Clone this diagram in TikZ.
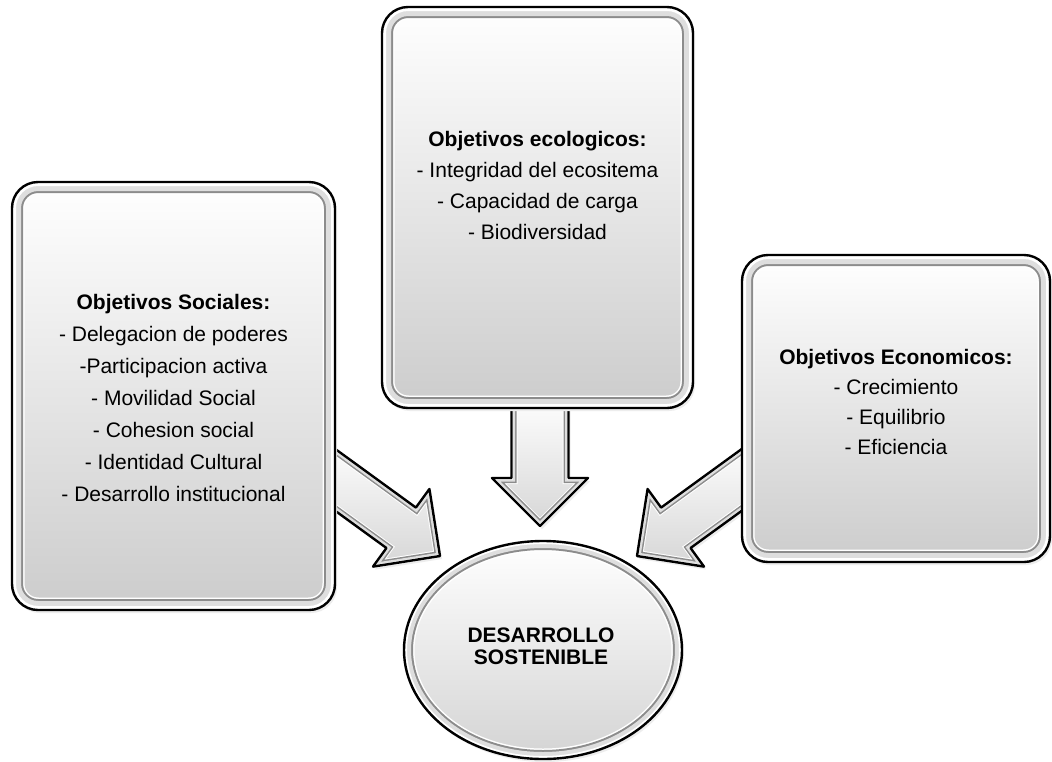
\documentclass[tikz,border=0pt]{standalone}
\usepackage{fontspec}
\setmainfont{Liberation Sans}
\newcommand\bevelpart[6]{% #1 path, #2 bottom colour, #3 band outer, #4 band line, #5 white line, #6 highlight
  \fill[black!7, xshift=2pt, yshift=-3pt] #1;
  \begin{scope}
    \clip #1;
    \fill[top color=white, bottom color=#2] #1;
    \draw[white, line width=#5] #1;
    \draw[black!45, line width=#4] #1;
    \draw[black!13, line width=#3] #1;
    \draw[white, line width=#6] #1;
  \end{scope}
  \draw[black, line width=2.4pt, line join=round] #1;
}
\begin{document}
\begin{tikzpicture}[x=1pt,y=-1pt,
  txt/.style={align=center, inner sep=0pt, font=\fontsize{21}{#1}\selectfont}]
\useasboundingbox[fill=white] (0,0) rectangle (1052,761);

% block arrows (drawn first, boxes cover their tails)
\bevelpart{(320,437.9) -- (415.9,507.6) -- (429.4,489.0) -- (440,556) -- (373.0,566.6) -- (386.5,548.0) -- (320,499.7) -- cycle}{black!16}{7pt}{10pt}{12pt}{3pt}
\bevelpart{(757,437.9) -- (661.1,507.6) -- (647.6,489.0) -- (637,556) -- (704,566.6) -- (690.5,548.0) -- (757,499.7) -- cycle}{black!16}{7pt}{10pt}{12pt}{3pt}
\bevelpart{(511.5,395) -- (568.5,395) -- (568.5,478) -- (588,478) -- (540,526) -- (492,478) -- (511.5,478) -- cycle}{black!16}{7pt}{10pt}{12pt}{3pt}

% boxes
\bevelpart{[rounded corners=26pt] (12,182) rectangle (335,610)}{black!20}{18pt}{22pt}{25pt}{8pt}
\bevelpart{[rounded corners=26pt] (382,7) rectangle (693,408)}{black!20}{18pt}{22pt}{25pt}{8pt}
\bevelpart{[rounded corners=26pt] (742,255) rectangle (1050,562)}{black!20}{18pt}{22pt}{25pt}{8pt}

% circle
\bevelpart{(543,650) ellipse [x radius=139pt, y radius=109pt]}{black!17}{14pt}{18pt}{21pt}{6pt}

% texts
\node[txt=32] (soc) at (173.5,398) {\textbf{Objetivos Sociales:}\\- Delegacion de poderes\\-Participacion activa\\- Movilidad Social\\- Cohesion social\\- Identidad Cultural\\- Desarrollo institucional};
\node[txt=31] (eco) at (537.5,185) {\textbf{Objetivos ecologicos:}\\- Integridad del ecositema\\- Capacidad de carga\\- Biodiversidad};
\node[txt=30] (econ) at (896,402) {\textbf{Objetivos Economicos:}\\- Crecimiento\\- Equilibrio\\- Eficiencia};
\node[txt=22, font=\fontsize{21}{22}\bfseries] (ds) at (541,646) {DESARROLLO\\SOSTENIBLE};
\end{tikzpicture}
\end{document}
